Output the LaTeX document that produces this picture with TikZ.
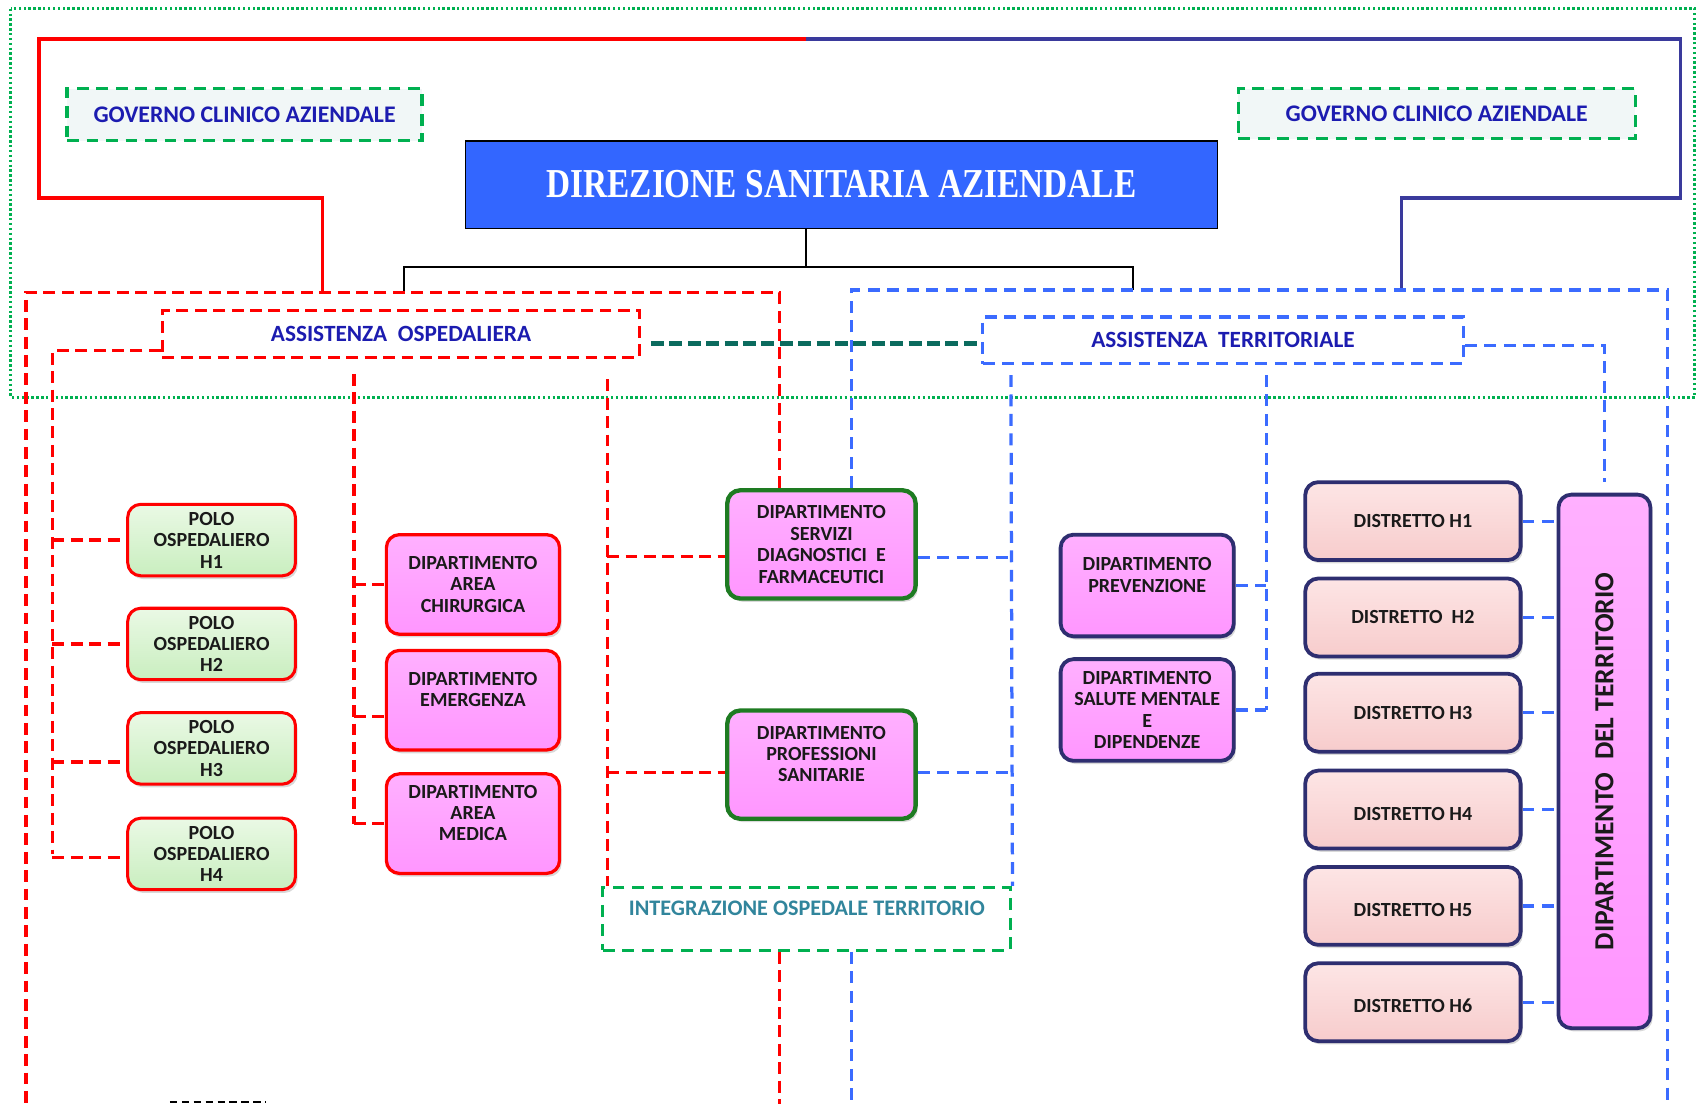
\documentclass[tikz,border=0pt]{standalone}
\usepackage{fontspec}
\setmainfont{Carlito}
\newfontfamily\serifbold[FakeStretch=0.81]{Liberation Serif}
\usetikzlibrary{shadows}
\definecolor{cred}{HTML}{FF0000}
\definecolor{cnavy}{HTML}{3A3A9C}
\definecolor{cblue}{HTML}{3B6BFF}
\definecolor{cgreen}{HTML}{00B050}
\definecolor{cteal}{HTML}{0B6B5E}
\definecolor{ctext}{HTML}{1C1CB0}
\definecolor{cdir}{HTML}{3366FF}
\definecolor{cpink}{HTML}{FF96FF}
\definecolor{cpinklt}{HTML}{FFB0FF}
\definecolor{cpolo}{HTML}{C9EEBF}
\definecolor{cpololt}{HTML}{EAF9E5}
\definecolor{cdist}{HTML}{F7CCCC}
\definecolor{cdistlt}{HTML}{FDE5E5}
\definecolor{cbord}{HTML}{2E2E70}
\definecolor{cgbord}{HTML}{1E7B22}
\definecolor{cinteg}{HTML}{31859C}
\definecolor{cgov}{HTML}{F1F7F7}
\definecolor{cboxtext}{HTML}{1A1A1A}
\begin{document}
\begin{tikzpicture}[x=1pt,y=-1pt,
  font=\fontsize{18.5}{19.8}\selectfont\bfseries,
  redsolid/.style={draw=cred,line width=3pt},
  navysolid/.style={draw=cnavy,line width=3pt},
  blk/.style={draw=black,line width=1.5pt},
  reddash/.style={draw=cred,line width=3pt,dash pattern=on 11pt off 6pt},
  bluedash/.style={draw=cblue,line width=3pt,dash pattern=on 11pt off 7pt},
  greendash/.style={draw=cgreen,line width=3pt,dash pattern=on 11pt off 7pt},
  tealdash/.style={draw=cteal,line width=4.5pt,dash pattern=on 12pt off 5pt},
  gov/.style={greendash,fill=cgov,text=ctext,font=\fontsize{22}{23}\selectfont\bfseries,inner sep=0pt},
  secbox/.style={line width=3pt,fill=white,text=ctext,font=\fontsize{21.5}{22}\selectfont\bfseries,inner sep=0pt},
  rbox/.style={rectangle,rounded corners=12pt,align=center,inner sep=1pt,text=cboxtext,
     drop shadow={shadow xshift=2pt,shadow yshift=-3pt,opacity=0.3}},
  polo/.style={rbox,draw=cred,line width=2.8pt,top color=cpololt,bottom color=cpolo,minimum width=155pt,minimum height=66pt},
  dipr/.style={rbox,draw=cred,line width=3pt,top color=cpinklt,bottom color=cpink,minimum width=160pt,minimum height=92pt},
  dipg/.style={rbox,draw=cgbord,line width=4pt,top color=cpinklt,bottom color=cpink,minimum width=174pt,minimum height=100pt},
  dipb/.style={rbox,draw=cbord,line width=3.5pt,top color=cpinklt,bottom color=cpink,minimum width=160pt,minimum height=94pt},
  dist/.style={rbox,draw=cbord,line width=3.5pt,top color=cdistlt,bottom color=cdist,minimum width=199pt,minimum height=72pt},
]
\useasboundingbox (0,0) rectangle (1568,1029);

% named free ends
\coordinate (topmid) at (745,36);
\coordinate (redtop) at (298,270);
\coordinate (bluetop) at (1295,268);
\coordinate (lefttop) at (373,270);
\coordinate (righttop) at (1047,268);
\coordinate (xr) at (720,0);
\coordinate (xb) at (787,0);
\coordinate (vx2) at (327,0);
\coordinate (vx3) at (561,0);
\coordinate (vx4) at (934,0);
\coordinate (vx5) at (1170,0);
\coordinate (rbl) at (24,1020);
\coordinate (bbr) at (1541,1020);
\coordinate (rbot) at (720,1020);
\coordinate (bbot) at (787,1020);
\coordinate (sb1) at (157,1018);
\coordinate (sb2) at (246,1018);

% outer dotted frame
\draw[cgreen,line width=3pt,dash pattern=on 2.2pt off 2.3pt] (10,8) rectangle (1566,367);

% top boxes
\node[gov,minimum width=328pt,minimum height=48pt] (gov1) at (226,106) {GOVERNO CLINICO AZIENDALE};
\node[gov,minimum width=367pt,minimum height=46pt] (gov2) at (1327.5,105) {GOVERNO CLINICO AZIENDALE};
\node[draw=black,line width=1.5pt,fill=cdir,text=white,minimum width=695pt,minimum height=81pt,
      font=\serifbold\fontsize{38}{38}\selectfont\bfseries] (dir) at (777.5,170.5) {DIREZIONE SANITARIA AZIENDALE};

% section boxes
\node[secbox,draw=cred,dash pattern=on 11pt off 6pt,minimum width=441pt,minimum height=43pt] (ao) at (370.5,308.5) {ASSISTENZA~~OSPEDALIERA};
\node[secbox,draw=cblue,dash pattern=on 11pt off 7pt,minimum width=444pt,minimum height=43pt] (at) at (1130,314.5) {ASSISTENZA~~TERRITORIALE};
\node[greendash,fill=white,text=cinteg,align=center,font=\fontsize{20.5}{20}\selectfont\bfseries,
      minimum width=377pt,minimum height=58pt,inner sep=0pt] (integ) at (745.5,849) {INTEGRAZIONE OSPEDALE TERRITORIO\\\mbox{}};

% polo ospedaliero
\node[polo] (p1) at (195.5,499) {POLO\\OSPEDALIERO\\H1};
\node[polo] (p2) at (195.5,595) {POLO\\OSPEDALIERO\\H2};
\node[polo] (p3) at (195.5,691.5) {POLO\\OSPEDALIERO\\H3};
\node[polo] (p4) at (195.5,789) {POLO\\OSPEDALIERO\\H4};

% left departments
\node[dipr] (chir) at (437,540) {DIPARTIMENTO\\AREA\\CHIRURGICA};
\node[dipr] (emerg) at (437,647) {DIPARTIMENTO\\EMERGENZA\\\mbox{}};
\node[dipr] (medica) at (437,761) {DIPARTIMENTO\\AREA\\MEDICA\\\mbox{}};

% central departments
\node[dipg] (serv) at (759,503) {DIPARTIMENTO\\SERVIZI\\DIAGNOSTICI~~E\\FARMACEUTICI};
\node[dipg] (prof) at (759,706.5) {DIPARTIMENTO\\PROFESSIONI\\SANITARIE\\\mbox{}};

% right departments
\node[dipb] (prev) at (1060,541) {DIPARTIMENTO\\PREVENZIONE\\\mbox{}};
\node[dipb] (salute) at (1060,656) {DIPARTIMENTO\\SALUTE MENTALE\\E\\DIPENDENZE};

% distretti
\node[dist] (d1) at (1305.5,481.5) {DISTRETTO H1};
\node[dist] (d2) at (1305.5,570.5) {DISTRETTO~~H2};
\node[dist] (d3) at (1305.5,658.5) {DISTRETTO H3};
\node[dist] (d4) at (1305.5,748) {\mbox{}\\DISTRETTO H4};
\node[dist] (d5) at (1305.5,837) {\mbox{}\\DISTRETTO H5};
\node[dist] (d6) at (1305.5,926) {\mbox{}\\DISTRETTO H6};

% dipartimento del territorio
\node[rbox,draw=cbord,line width=3.5pt,top color=cpinklt,bottom color=cpink,minimum width=85pt,minimum height=493pt] (ddt) at (1482.5,703.5) {};
\node[rotate=90,text=cboxtext,font=\fontsize{25.5}{25}\selectfont\bfseries] (ddtt) at (ddt.center) {DIPARTIMENTO~~DEL TERRITORIO};

% solid top lines
\draw[redsolid] (topmid) -- (36,36) -- (36,183) -- (298,183) -- (redtop);
\draw[navysolid] (topmid) -- (1553,36) -- (1553,183) -- (1295,183) -- (bluetop);

% black connector from direzione
\draw[blk] ([xshift=-32.5pt]dir.south) -- ++(0,35) coordinate (bus);
\draw[blk] (lefttop) |- (bus) -| (righttop);

% big red and blue dashed areas
\draw[reddash] (serv.north -| xr) -- (720,270) -- (24,270) -- (rbl);
\draw[reddash] (integ.south -| xr) -- (rbot);
\draw[bluedash] (serv.north -| xb) -- (787,268) -- (1541,268) -- (bbr);
\draw[bluedash] (integ.south -| xb) -- (bbot);
\draw[black,line width=1.5pt,dash pattern=on 7pt off 4pt] (sb1) -- (sb2);

% link between the two assistenze
\path ([yshift=-8.5pt]ao.east) coordinate (aoe);
\draw[tealdash,shorten <=9pt,shorten >=3pt] (aoe) -- (aoe -| at.west);

% ospedaliera tree: polo
\path ([yshift=-15.5pt]ao.west) coordinate (aow);
\draw[reddash] (aow) -- ++(-100,0) coordinate (lt) -- (lt |- p4.west);
\path ([yshift=-12.5pt]p3.west) coordinate (p3w);
\path ([yshift=-3pt]p4.west) coordinate (p4w);
\draw[reddash] (lt |- p1.west) -- (p1.west);
\draw[reddash] (lt |- p2.west) -- (p2.west);
\draw[reddash] (lt |- p3w) -- (p3w);
\draw[reddash] (lt |- p4w) -- (p4w);

% ospedaliera tree: departments
\path ([yshift=-15pt]emerg.west) coordinate (emw);
\draw[reddash,shorten <=14pt] (ao.south -| vx2) -- (medica.west -| vx2);
\draw[reddash] (chir.west -| vx2) -- (chir.west);
\draw[reddash] (emw -| vx2) -- (emw);
\draw[reddash] (medica.west -| vx2) -- (medica.west);

% ospedaliera tree: central
\path ([yshift=-11pt]serv.west) coordinate (svw);
\path ([yshift=-7.5pt]prof.west) coordinate (pfw);
\draw[reddash,shorten <=19pt] (ao.south -| vx3) -- (integ.north -| vx3);
\draw[reddash] (svw -| vx3) -- (svw);
\draw[reddash] (pfw -| vx3) -- (pfw);

% territoriale tree
\path ([yshift=-12pt]serv.east) coordinate (sve);
\path ([yshift=-7.5pt]prof.east) coordinate (pfe);
\draw[bluedash,shorten <=9pt] (at.south -| vx4) -- (integ.north east);
\draw[bluedash] (sve) -- (sve -| vx4);
\draw[bluedash] (pfe) -- (pfe -| vx4);
\draw[bluedash,shorten <=9pt] (at.south -| vx5) -- (salute.east -| vx5);
\draw[bluedash] (prev.east) -- (prev.east -| vx5);
\draw[bluedash] (salute.east) -- (salute.east -| vx5);
\path ([yshift=-4.5pt]at.east) coordinate (ate);
\draw[bluedash,shorten >=10pt] (ate) -| (ddt.north);
\foreach \d in {d1,d2,d3,d4,d5,d6}
  \draw[bluedash] (\d.east) -- (\d.east -| ddt.west);
\end{tikzpicture}
\end{document}
